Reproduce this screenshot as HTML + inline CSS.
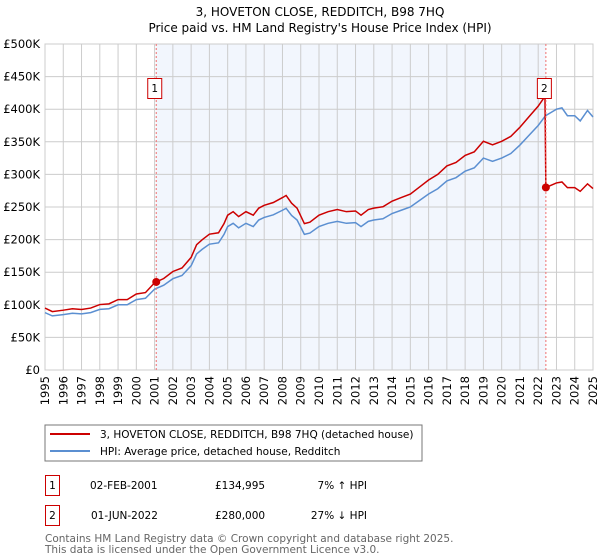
<!DOCTYPE html>
<html><head><meta charset="utf-8"><style>
body{margin:0;background:#fff;}
svg{display:block;font-family:"DejaVu Sans","Liberation Sans",sans-serif;}
</style></head><body>
<svg id="c" width="600" height="560" viewBox="0 0 600 560">
<text x="320" y="16" text-anchor="middle" font-size="12">3, HOVETON CLOSE, REDDITCH, B98 7HQ</text>
<text x="320" y="32" text-anchor="middle" font-size="12">Price paid vs. HM Land Registry's House Price Index (HPI)</text>
<g id="plot"></g>
<g>
<rect x="45" y="425" width="377" height="36" fill="#fff" stroke="#777"/>
<line x1="50" y1="434" x2="90" y2="434" stroke="#cc0000" stroke-width="2"/>
<text x="100" y="438" font-size="10.5">3, HOVETON CLOSE, REDDITCH, B98 7HQ (detached house)</text>
<line x1="50" y1="451" x2="90" y2="451" stroke="#5b8fd1" stroke-width="2"/>
<text x="100" y="455" font-size="10.5">HPI: Average price, detached house, Redditch</text>
</g>
<g font-size="10.5">
<rect x="45.5" y="475.5" width="14" height="20" fill="#fff" stroke="#cc0000"/>
<text x="52.5" y="489" text-anchor="middle">1</text>
<text x="90" y="489">02-FEB-2001</text>
<text x="215" y="489">£134,995</text>
<text x="367" y="489" text-anchor="end">7% ↑ HPI</text>
<rect x="45.5" y="505.5" width="14" height="20" fill="#fff" stroke="#cc0000"/>
<text x="52.5" y="519" text-anchor="middle">2</text>
<text x="91" y="519">01-JUN-2022</text>
<text x="215" y="519">£280,000</text>
<text x="367" y="519" text-anchor="end">27% ↓ HPI</text>
</g>
<text x="45" y="542" font-size="10.5" fill="#666">Contains HM Land Registry data © Crown copyright and database right 2025.</text>
<text x="45" y="553" font-size="10.5" fill="#666">This data is licensed under the Open Government Licence v3.0.</text>
</svg>
<script>
const yTicks=[0,50,100,150,200,250,300,350,400,450,500];
const yTickLabels=["£0","£50K","£100K","£150K","£200K","£250K","£300K","£350K","£400K","£450K","£500K"];
const xYears=[1995,1996,1997,1998,1999,2000,2001,2002,2003,2004,2005,2006,2007,2008,2009,2010,2011,2012,2013,2014,2015,2016,2017,2018,2019,2020,2021,2022,2023,2024,2025];
const hpiT=[1995,1995.4,1996,1996.5,1997,1997.5,1998,1998.5,1999,1999.5,2000,2000.5,2001,2001.5,2002,2002.5,2003,2003.3,2003.6,2004,2004.5,2004.8,2005,2005.3,2005.6,2006,2006.4,2006.7,2007,2007.5,2008,2008.2,2008.5,2008.8,2009.2,2009.5,2010,2010.5,2011,2011.5,2012,2012.3,2012.7,2013,2013.5,2014,2014.5,2015,2015.5,2016,2016.5,2017,2017.5,2018,2018.5,2019,2019.5,2020,2020.5,2021,2021.5,2022,2022.4,2022.7,2023,2023.3,2023.6,2024,2024.3,2024.7,2025];
const hpiV=[88,83,85,87,86,88,93,94,100,100,108,110,124,130,140,145,160,178,185,193,195,208,220,225,218,225,220,230,234,238,245,248,237,230,208,210,220,225,228,225,226,220,228,230,232,240,245,250,260,270,278,290,295,305,310,325,320,325,332,345,360,375,390,395,400,402,390,390,382,398,388];
const saleT=[2001.09,2022.42];
const saleV=[134.995,280];
const saleLabels=["1","2"];
const x0=45,x1=593,y0=370,y1=44;
const xs=t=>x0+(t-1995)/30*(x1-x0);
const ys=v=>y0-v/500*(y0-y1);
const NS="http://www.w3.org/2000/svg";
const g=document.getElementById('plot');
function mk(tag,attrs,parent){const e=document.createElementNS(NS,tag);for(const k in attrs)e.setAttribute(k,attrs[k]);(parent||g).appendChild(e);return e;}
const area=mk('rect',{x:x0,y:y1,width:x1-x0,height:y0-y1,fill:'#fff'});


const shade=mk('rect',{x:xs(saleT[0]),y:y1,width:xs(saleT[1])-xs(saleT[0]),height:y0-y1,fill:'#f2f6fd'});


yTicks.forEach((v,i)=>{
 const l=mk('line',{x1:x0,x2:x1,y1:ys(v),y2:ys(v),stroke:'#ccc'});
 
 
 const t=mk('text',{x:x0-5,y:ys(v)+4,'text-anchor':'end','font-size':'11.5'});
 t.textContent=yTickLabels[i];
 
 
});
xYears.forEach(yr=>{
 const l=mk('line',{x1:xs(yr),x2:xs(yr),y1:y1,y2:y0,stroke:'#ccc'});
 
 
 const t=mk('text',{x:0,y:0,'font-size':'11.5','text-anchor':'end',transform:`translate(${xs(yr)+4},${y0+6}) rotate(-90)`});
 t.textContent=yr;
 
 
});
mk('rect',{x:x0,y:y1,width:x1-x0,height:y0-y1,fill:'none',stroke:'#ccc'});
// hpi
const hp=mk('polyline',{points:hpiT.map((t,i)=>xs(t)+','+ys(hpiV[i])).join(' '),fill:'none',stroke:'#5b8fd1','stroke-width':1.5});


// property line: hpi scaled from each sale
function hpiAt(t){for(let i=1;i<hpiT.length;i++){if(t<=hpiT[i]){const f=(t-hpiT[i-1])/(hpiT[i]-hpiT[i-1]);return hpiV[i-1]+f*(hpiV[i]-hpiV[i-1]);}}return hpiV[hpiV.length-1];}
const r1=saleV[0]/hpiAt(saleT[0]),r2=saleV[1]/hpiAt(saleT[1]);
const pts=[];
hpiT.forEach((t,i)=>{if(t<saleT[1])pts.push([t,hpiV[i]*r1]);});
pts.push([saleT[1]-0.05,hpiAt(saleT[1])*r1]);
pts.push([saleT[1],saleV[1]]);
hpiT.forEach((t,i)=>{if(t>saleT[1])pts.push([t,hpiV[i]*r2]);});
const pl=mk('polyline',{points:pts.map(p=>xs(p[0])+','+ys(p[1])).join(' '),fill:'none',stroke:'#cc0000','stroke-width':1.5});


saleT.forEach((t,i)=>{
 const v=mk('line',{x1:xs(t),x2:xs(t),y1:y1,y2:y0,stroke:'#f07070','stroke-dasharray':'2,2'});
 
 
 const c=mk('circle',{cx:xs(t),cy:ys(saleV[i]),r:4,fill:'#cc0000'});
 
 
 const b=mk('rect',{x:xs(t)-8.5,y:78.5,width:14,height:20,fill:'#fff',stroke:'#cc0000'});
 
 
 const tx=mk('text',{x:xs(t)-1.5,y:92,'text-anchor':'middle','font-size':'10.5'});
 tx.textContent=saleLabels[i];
 
 
});
</script>
</body></html>
